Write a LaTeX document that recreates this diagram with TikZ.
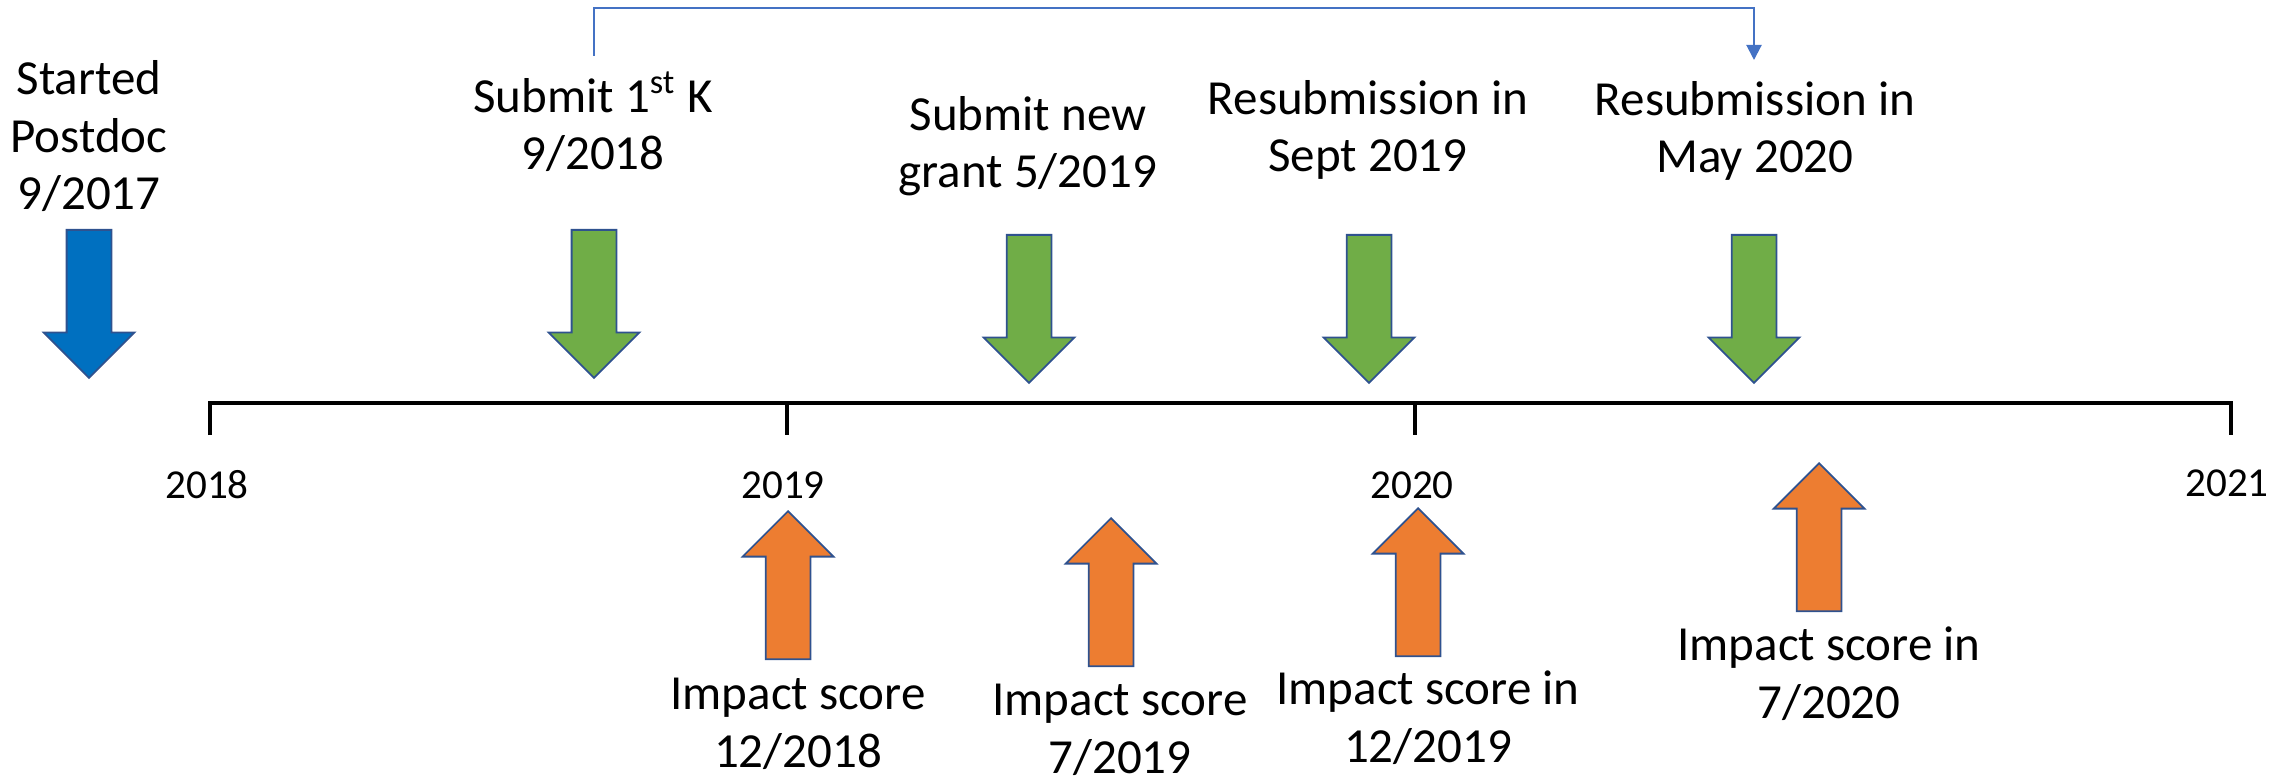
\documentclass[tikz,border=0pt]{standalone}
\usepackage{fontspec}
\setmainfont{Carlito}
\usepackage{tikz}
\usetikzlibrary{shapes.arrows,arrows.meta,positioning}

\definecolor{evblue}{HTML}{0070C0}
\definecolor{evgreen}{HTML}{70AD47}
\definecolor{evorange}{HTML}{ED7D31}
\definecolor{evedge}{HTML}{2F528F}
\definecolor{linkblue}{HTML}{4472C4}

\begin{document}
\begin{tikzpicture}[x=0.1mm,y=-0.1mm,
	lbl/.style={align=center,anchor=base,inner sep=0pt,
	            font=\fontsize{13.94}{16.5}\selectfont},
	yr/.style={anchor=base,inner sep=0pt,font=\fontsize{11.7}{14}\selectfont},
	blk/.style={single arrow,draw=evedge,line width=0.5pt,
	            inner sep=2.15mm,minimum height=14.8mm,
	            single arrow head extend=2.3mm,single arrow tip angle=90},
	dn/.style={blk,shape border rotate=270,anchor=tail},
	up/.style={blk,shape border rotate=90,anchor=tip},
	axis/.style={line width=1.4pt},
	]

	\useasboundingbox (0,0) rectangle (2295,779);

	% submissions (top), placed by their last baseline
	\node[lbl] (start)  at (89,210)   {Started\\Postdoc\\9/2017};
	\node[lbl] (sub1)   at (593,170)  {Submit 1\textsuperscript{st} K\\9/2018};
	\node[lbl] (subnew) at (1028,188) {Submit new\\grant 5/2019};
	\node[lbl] (resub1) at (1368,172) {Resubmission in\\Sept 2019};
	\node[lbl] (resub2) at (1755,173) {Resubmission in\\May 2020};

	\node[dn,fill=evblue]  (a0) at (89,229)   {};
	\node[dn,fill=evgreen] (g1) at (594,229)  {};
	\node[dn,fill=evgreen] (g2) at (1029,234) {};
	\node[dn,fill=evgreen] (g3) at (1369,234) {};
	\node[dn,fill=evgreen] (g4) at (1754,234) {};

	% resubmission link
	\coordinate (b1) at (594,56);
	\coordinate (b2) at (1754,60);
	\draw[linkblue,line width=0.6pt,-{Triangle[length=1.5mm,width=1.5mm]}]
	     (b1) -- ++(0,-48) -| (b2);

	% time axis
	\coordinate (t18) at (210,403);
	\coordinate (t19) at (787,403);
	\coordinate (t20) at (1415,403);
	\coordinate (t21) at (2231,403);

	\draw[axis] (t18) ++(0,32) -- (t18) -- (t21) -- ++(0,32);
	\draw[axis] (t19) -- ++(0,32);
	\draw[axis] (t20) -- ++(0,32);

	\node[yr] (y18) at (207,498)  {2018};
	\node[yr] (y19) at (783,498)  {2019};
	\node[yr] (y20) at (1412,498) {2020};
	\node[yr] (y21) at (2227,496) {2021};

	% impact scores (bottom)
	\node[up,fill=evorange] (o1) at (788,510)  {};
	\node[up,fill=evorange] (o2) at (1111,517) {};
	\node[up,fill=evorange] (o3) at (1418,507) {};
	\node[up,fill=evorange] (o4) at (1819,462) {};

	\node[lbl] (imp1) at (798,767)  {Impact score\\12/2018};
	\node[lbl] (imp2) at (1120,773) {Impact score\\7/2019};
	\node[lbl] (imp3) at (1428,762) {Impact score in\\12/2019};
	\node[lbl] (imp4) at (1829,718) {Impact score in\\7/2020};

\end{tikzpicture}
\end{document}
